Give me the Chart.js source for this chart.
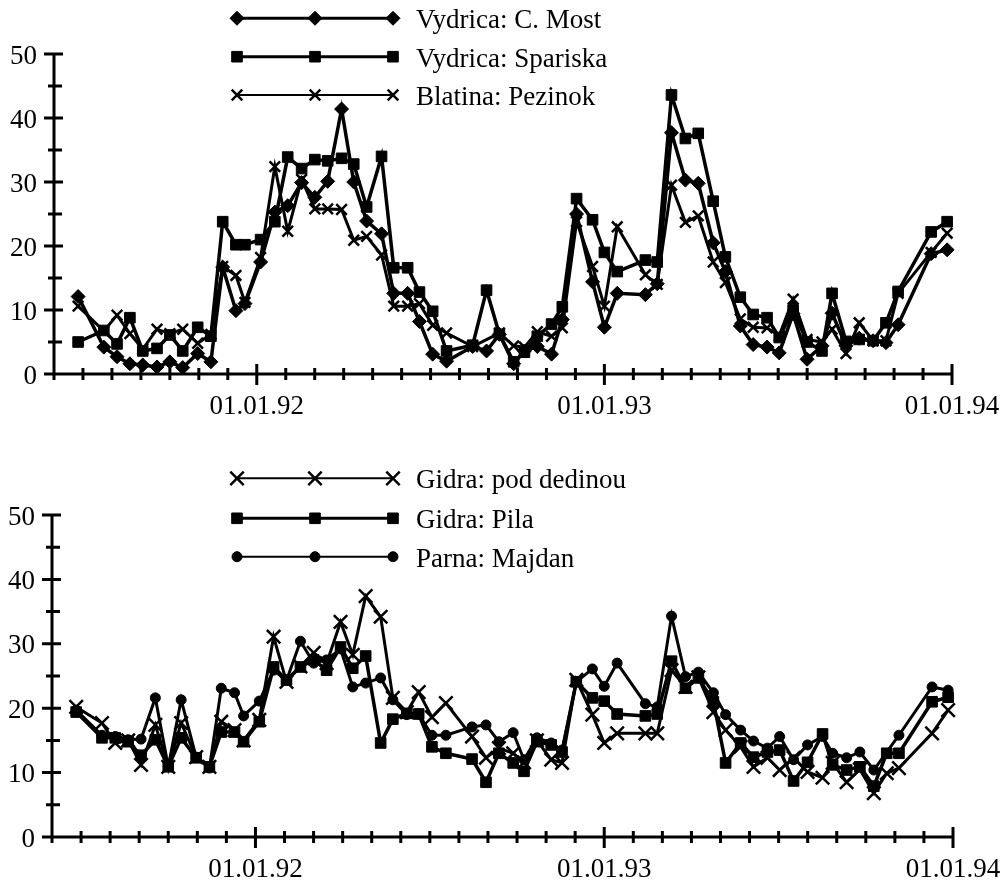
<!DOCTYPE html>
<html>
<head>
<meta charset="utf-8">
<script src="https://cdn.jsdelivr.net/npm/chart.js@4/dist/chart.umd.min.js"></script>
<style>
html,body{margin:0;padding:0;background:#fff;}
#wrap{position:relative;width:1003px;height:883px;overflow:hidden;}
canvas{position:absolute;left:0;}
</style>
</head>
<body>
<div id="wrap">
<canvas id="topChart" width="1003" height="440" style="top:0;width:1003px;height:440px"></canvas>
<canvas id="botChart" width="1003" height="443" style="top:440px;width:1003px;height:443px"></canvas>
</div>
<script>
// ---- sampling dates (decimal years) shared by both panels ----
const dates = [1991.486,1991.560,1991.598,1991.635,1991.672,1991.713,1991.750,1991.787,1991.830,1991.868,
1991.902,1991.940,1991.966,1992.011,1992.052,1992.089,1992.129,1992.167,1992.204,1992.244,
1992.279,1992.316,1992.359,1992.394,1992.434,1992.468,1992.506,1992.546,1992.621,1992.661,
1992.698,1992.739,1992.770,1992.807,1992.848,1992.879,1992.920,1992.966,1993.000,1993.037,
1993.118,1993.152,1993.193,1993.233,1993.270,1993.313,1993.348,1993.391,1993.428,1993.468,
1993.503,1993.543,1993.583,1993.626,1993.655,1993.695,1993.733,1993.773,1993.810,1993.845,
1993.940,1993.986];

// ---- top panel series ----
const mostValues = [12.1,4.2,2.7,1.6,1.4,1.1,1.9,1.0,3.2,1.9,
16.7,9.9,11.0,17.5,25.3,26.3,29.9,27.6,30.1,41.4,
30.0,23.9,21.9,12.6,12.6,8.2,3.1,2.0,4.3,3.6,
6.2,1.6,3.6,4.3,3.1,8.5,25.0,14.4,7.3,12.6,
12.4,14.1,37.7,30.3,29.8,20.5,16.0,7.5,4.6,4.2,
3.3,9.4,2.3,4.4,9.5,4.4,5.6,5.2,4.9,7.7,
18.8,19.4];
const spariskaValues = [5.0,6.8,4.7,8.8,3.6,4.0,6.1,3.6,7.3,5.9,
23.8,20.2,20.2,21.0,23.8,33.9,32.1,33.5,33.3,33.7,
32.8,26.1,34.0,16.6,16.6,12.8,9.8,3.6,4.5,13.1,
6.2,1.9,3.4,5.9,7.8,10.5,27.4,24.1,19.0,16.0,
17.8,17.5,43.6,36.8,37.6,27.0,18.3,12.0,9.3,8.8,
5.7,10.0,5.0,3.6,12.6,5.1,5.4,5.2,8.0,12.9,
22.2,23.8];
const pezinokValues = [10.6,6.7,9.2,6.3,3.9,7.0,6.3,7.0,4.8,6.2,
16.8,15.4,11.2,18.2,32.4,22.3,30.4,25.8,25.8,25.7,
20.9,21.5,18.6,10.6,10.6,11.0,7.6,6.4,4.3,null,
6.4,4.4,4.2,6.6,5.9,7.2,23.8,16.8,10.6,23.0,
15.5,14.0,29.5,23.7,24.7,17.5,14.3,8.6,7.3,7.2,
6.0,11.7,5.4,5.0,7.0,3.2,8.0,5.2,5.2,12.6,
19.0,22.0];

// ---- bottom panel series ----
const dedinouValues = [20.2,17.7,14.6,15.0,11.2,17.4,10.9,17.7,12.4,10.9,
17.9,16.6,15.0,18.2,31.1,24.1,26.5,28.6,27.0,33.4,
28.3,37.4,34.2,21.6,19.4,22.5,18.6,20.8,15.6,12.3,
13.8,13.0,11.6,15.0,12.0,11.5,24.4,19.0,14.6,16.1,
16.1,16.1,25.9,23.3,24.8,19.4,16.6,14.0,10.9,12.3,
10.4,12.3,10.1,9.2,11.5,8.5,10.5,6.8,9.9,10.7,
16.1,19.7];
const pilaValues = [19.4,15.4,15.4,14.8,12.7,15.1,10.9,15.4,12.3,10.9,
16.3,16.3,14.8,17.9,26.4,24.4,26.4,27.5,25.9,29.5,
26.2,28.1,14.6,18.3,19.2,19.1,14.0,13.0,12.1,8.5,
13.0,11.5,10.2,14.8,14.3,13.2,24.1,21.6,21.1,19.1,
18.8,19.1,27.3,23.1,24.7,21.0,11.5,14.6,12.4,13.2,
13.5,8.7,11.6,16.0,11.2,10.4,10.9,7.9,13.0,13.0,
21.0,21.7];
const majdanValues = [19.7,15.8,15.6,15.1,15.2,21.6,10.9,21.3,12.4,10.7,
23.1,22.4,18.8,21.1,25.9,24.3,30.4,27.0,27.5,29.2,
23.3,23.9,24.7,21.3,19.0,19.1,15.8,15.8,17.1,17.4,
14.8,16.2,12.0,15.4,14.6,13.5,24.1,26.1,23.4,27.0,
20.7,20.2,34.3,24.9,25.6,22.4,19.0,16.6,14.9,13.8,
15.6,12.0,14.3,15.6,13.0,12.3,13.2,10.4,null,15.8,
23.3,22.8];

// ---- labels / ticks ----
const topLabels = ['Vydrica: C. Most','Vydrica: Spariska','Blatina: Pezinok'];
const botLabels = ['Gidra: pod dedinou','Gidra: Pila','Parna: Majdan'];
const xTickLabels = ['01.01.92','01.01.93','01.01.94'];
const xLabelYears = [1992,1993,1994];
const yTickLabels = [0,10,20,30,40,50];
const X_START = 1991 + 5/12, X_END = 1994;

const FONT = '27px "Liberation Serif", "Times New Roman", serif';

function toPoints(vals){
  return dates.map((d,i)=>({x:d,y:vals[i]})).filter(p=>p.y!==null);
}

function marker(ctx, style, r, bw, x, y){
  ctx.beginPath();
  if(style==='rectRot'){ctx.moveTo(x-r,y);ctx.lineTo(x,y-r);ctx.lineTo(x+r,y);ctx.lineTo(x,y+r);ctx.closePath();ctx.fill();}
  else if(style==='rect'){const s=Math.SQRT1_2*r;ctx.rect(x-s,y-s,2*s,2*s);ctx.fill();}
  else if(style==='circle'){ctx.arc(x,y,r,0,2*Math.PI);ctx.fill();}
  else if(style==='crossRot'){const s=Math.SQRT1_2*r;ctx.moveTo(x-s,y-s);ctx.lineTo(x+s,y+s);ctx.moveTo(x+s,y-s);ctx.lineTo(x-s,y+s);}
  ctx.lineWidth=bw; ctx.stroke();
}

const framePlugin = {
  id:'frame',
  beforeDatasetsDraw(chart){
    const ctx=chart.ctx, xs=chart.scales.x, ys=chart.scales.y;
    const x0=xs.getPixelForValue(X_START), x1=xs.getPixelForValue(X_END);
    const yb=ys.getPixelForValue(0), yt=ys.getPixelForValue(50);
    ctx.save();
    ctx.strokeStyle='#000'; ctx.fillStyle='#000'; ctx.lineWidth=3; ctx.lineCap='butt';
    ctx.beginPath();
    ctx.moveTo(x0,yt); ctx.lineTo(x0,yb+1.5);
    ctx.moveTo(x0-1.5,yb); ctx.lineTo(x1+1.5,yb);
    for(let v=0; v<=50; v+=5){
      const yp=ys.getPixelForValue(v), major=v%10===0;
      ctx.moveTo(x0-(major?10:6),yp); ctx.lineTo(x0+(major?9:8),yp);
    }
    for(let k=0;k<=31;k++){
      const xp=xs.getPixelForValue(X_START+k/12), major=(k===7||k===19||k===31);
      ctx.moveTo(xp,yb-(major?10:6)); ctx.lineTo(xp,yb+(major?11:6));
    }
    ctx.stroke();
    ctx.font=FONT; ctx.textBaseline='alphabetic';
    ctx.textAlign='right';
    yTickLabels.forEach(v=>ctx.fillText(String(v), x0-17, ys.getPixelForValue(v)+9.5));
    ctx.textAlign='center';
    xLabelYears.forEach((yr,i)=>ctx.fillText(xTickLabels[i], xs.getPixelForValue(yr), yb+40));
    ctx.restore();
  },
  afterDraw(chart, args, opts){
    const ctx=chart.ctx;
    ctx.save();
    ctx.strokeStyle='#000'; ctx.fillStyle='#000';
    chart.data.datasets.forEach((ds,i)=>{
      const y=opts.rows[i];
      ctx.lineWidth=ds.legendLine;
      ctx.beginPath(); ctx.moveTo(237,y); ctx.lineTo(393,y); ctx.stroke();
      [237,315,393].forEach(x=>marker(ctx, ds.pointStyle, ds.pointRadius, ds.pointBorderWidth, x, y));
      ctx.font=FONT; ctx.textAlign='left'; ctx.textBaseline='alphabetic';
      ctx.fillText(ds.label, 416, y+10);
    });
    ctx.restore();
  }
};

function ds(label, vals, style, r, lw, pbw, legendLine){
  return {label, data:toPoints(vals), borderColor:'#000', backgroundColor:'#000',
    borderWidth:lw, pointStyle:style, pointRadius:r, pointHoverRadius:r,
    pointBorderWidth:pbw, pointBackgroundColor:'#000', pointBorderColor:'#000',
    fill:false, tension:0, clip:false, borderJoinStyle:'miter', legendLine};
}

function makeChart(id, datasets, padding, rows){
  return new Chart(document.getElementById(id), {
    type:'line',
    data:{datasets},
    options:{
      responsive:false, animation:false, devicePixelRatio:1,
      layout:{padding},
      scales:{
        x:{type:'linear', min:X_START, max:X_END, display:false},
        y:{type:'linear', min:0, max:50, display:false}
      },
      plugins:{legend:{display:false}, tooltip:{enabled:false}, frame:{rows}}
    },
    plugins:[framePlugin]
  });
}

makeChart('topChart', [
  ds(topLabels[0], mostValues, 'rectRot', 7, 3.5, 1, 3),
  ds(topLabels[1], spariskaValues, 'rect', 7.5, 3.5, 1, 3),
  ds(topLabels[2], pezinokValues, 'crossRot', 7.5, 3, 2.5, 2)
], {left:54, right:51, top:54, bottom:66}, [18.3, 56.7, 95]);

makeChart('botChart', [
  ds(botLabels[0], dedinouValues, 'crossRot', 9.5, 3, 2.5, 2),
  ds(botLabels[1], pilaValues, 'rect', 7.5, 3.5, 1, 3),
  ds(botLabels[2], majdanValues, 'circle', 5, 3, 1, 2)
], {left:52, right:50, top:75, bottom:46}, [38.3, 78.3, 116.7]);
</script>
</body>
</html>
